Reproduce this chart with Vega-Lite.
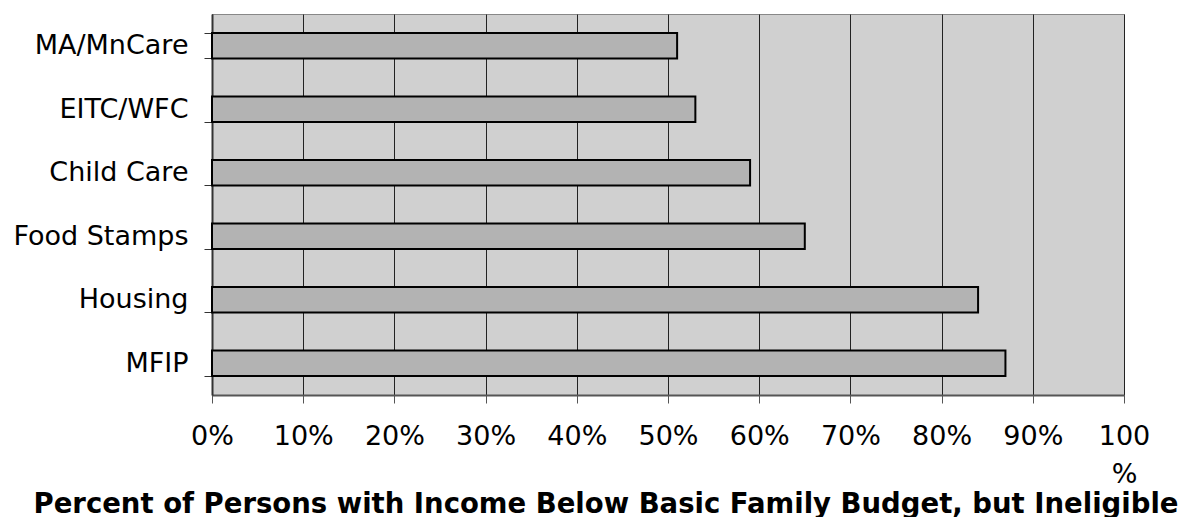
{
  "$schema": "https://vega.github.io/schema/vega-lite/v6.json",
  "width": 912,
  "height": 381,
  "autosize": {"type": "none"},
  "padding": {"left": 212, "top": 14, "right": 66, "bottom": 122},
  "background": "white",
  "data": {
    "values": [
      {"program": "MA/MnCare", "pct": 51},
      {"program": "EITC/WFC", "pct": 53},
      {"program": "Child Care", "pct": 59},
      {"program": "Food Stamps", "pct": 65},
      {"program": "Housing", "pct": 84},
      {"program": "MFIP", "pct": 87}
    ]
  },
  "title": {
    "text": "Percent of Persons with Income Below Basic Family Budget, but Ineligible",
    "orient": "bottom",
    "anchor": "middle",
    "frame": "group",
    "dx": -62,
    "offset": 4,
    "font": "DejaVu Sans",
    "fontSize": 27.5,
    "fontWeight": "bold",
    "color": "#000"
  },
  "mark": {"type": "bar", "color": "#b3b3b3", "stroke": "#000", "strokeWidth": 2},
  "encoding": {
    "y": {
      "field": "program",
      "type": "nominal",
      "sort": null,
      "scale": {"paddingInner": 0.6, "paddingOuter": 0.3},
      "axis": {
        "title": null,
        "tickBand": "extent",
        "grid": false,
        "tickSize": 8,
        "tickColor": "#333",
        "tickWidth": 1,
        "domainColor": "#333",
        "domainWidth": 2,
        "labelPadding": 16,
        "labelFont": "DejaVu Sans",
        "labelFontSize": 27,
        "labelColor": "#000"
      }
    },
    "x": {
      "field": "pct",
      "type": "quantitative",
      "scale": {"domain": [0, 100], "nice": false},
      "axis": {
        "title": null,
        "values": [0, 10, 20, 30, 40, 50, 60, 70, 80, 90, 100],
        "labelExpr": "datum.value == 100 ? ['100', '%'] : datum.value + '%'",
        "grid": true,
        "gridColor": "#222",
        "gridWidth": 1,
        "gridOpacity": 1,
        "tickSize": 8,
        "tickColor": "#555",
        "tickWidth": 1,
        "domainColor": "#555",
        "domainWidth": 2,
        "labelPadding": 20,
        "labelFont": "DejaVu Sans",
        "labelFontSize": 27,
        "labelColor": "#000",
        "labelLineHeight": 38,
        "labelFlush": false,
        "labelOverlap": false
      }
    }
  },
  "config": {
    "view": {"fill": "#d0d0d0", "stroke": "#888", "strokeWidth": 1}
  }
}
